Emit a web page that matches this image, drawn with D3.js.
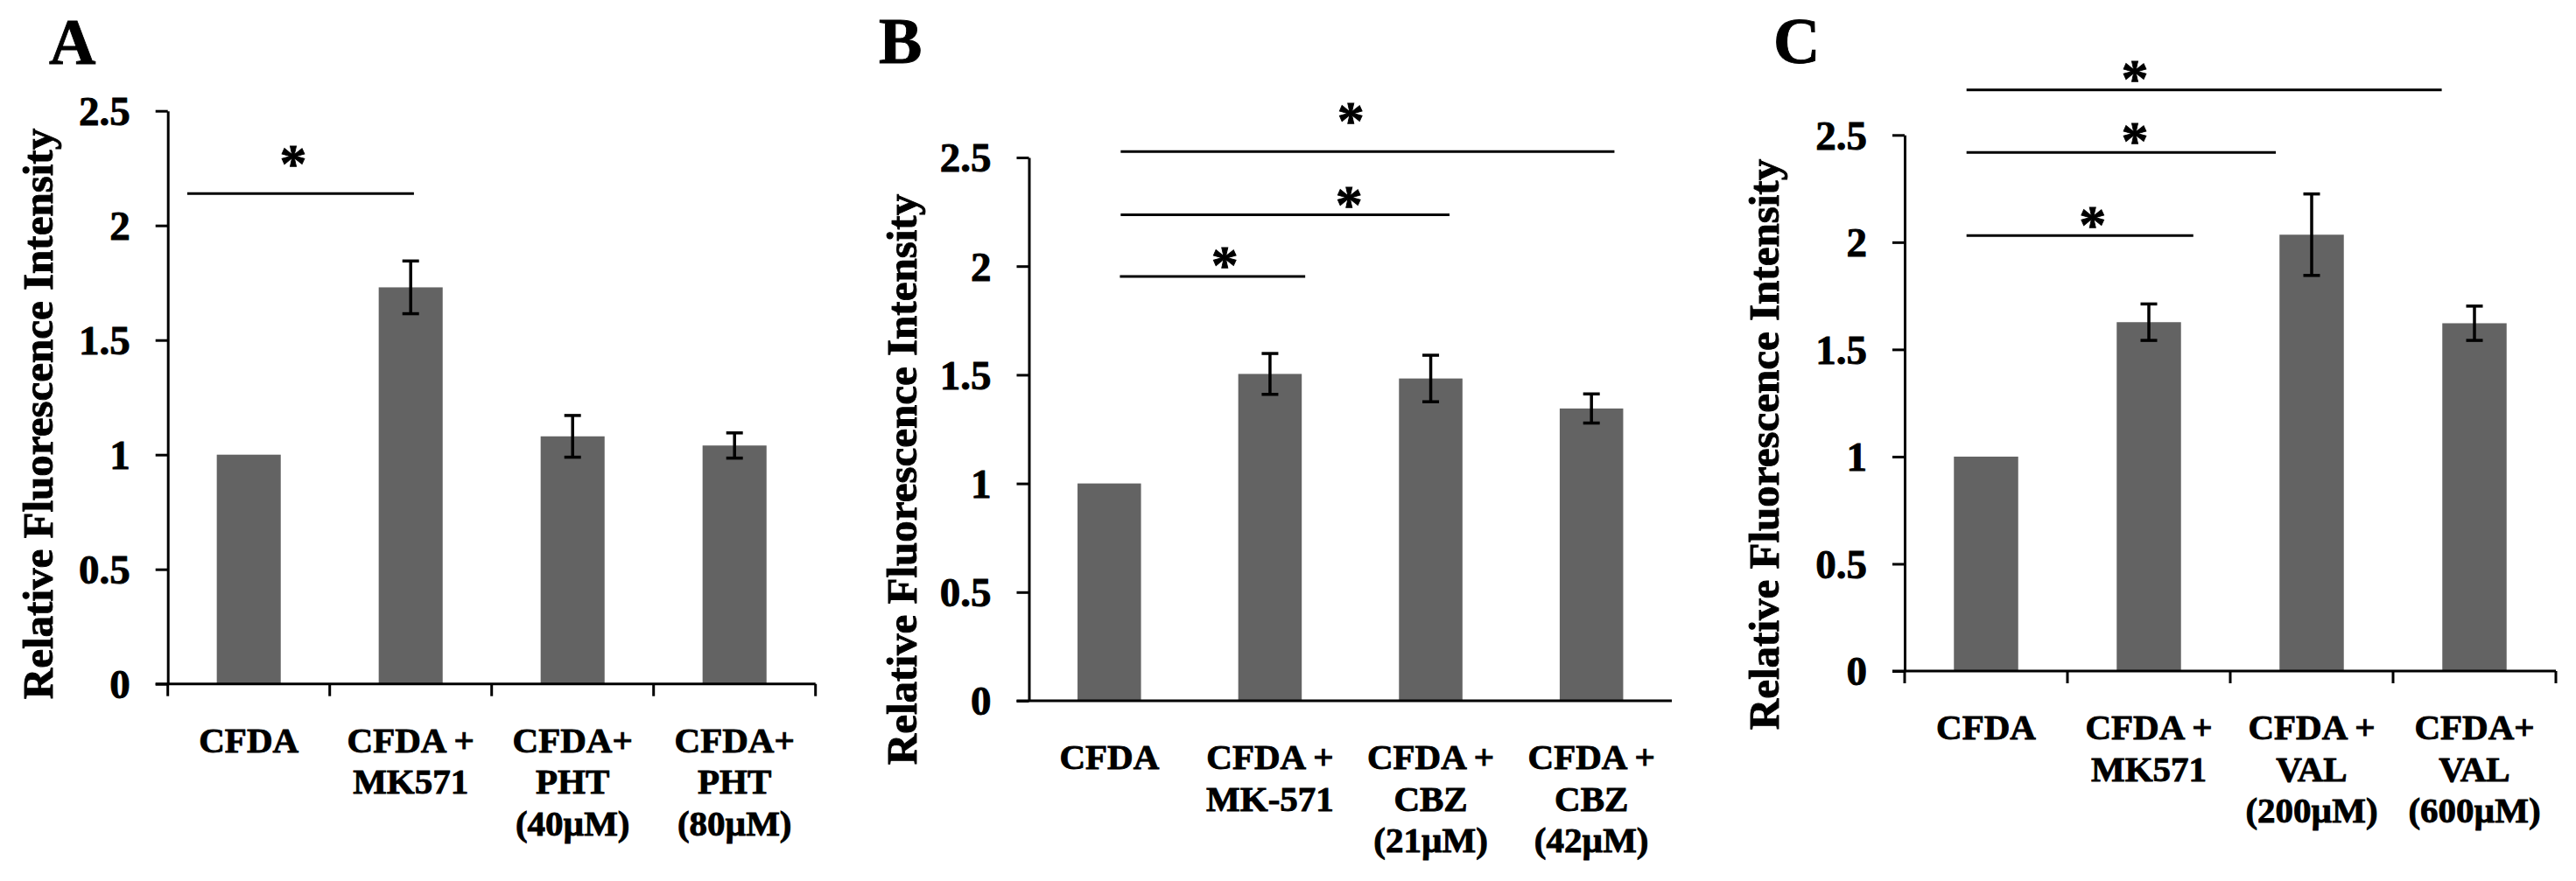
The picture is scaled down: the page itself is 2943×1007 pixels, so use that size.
<!DOCTYPE html>
<html>
<head>
<meta charset="utf-8">
<script src="https://cdn.jsdelivr.net/npm/d3@7"></script>
<style>
  html, body { margin: 0; padding: 0; background: #fff; }
  svg { display: block; }
  text { font-family: "Liberation Serif", "Times New Roman", serif; font-weight: bold; fill: #000; stroke: #000; stroke-width: 0.9px; }
</style>
</head>
<body>
<svg id="chart" width="2943" height="1007"></svg>
<script>
// ---------------- DATA ----------------
const yTickValues = [0, 0.5, 1, 1.5, 2, 2.5];
const yTickLabels = ["0", "0.5", "1", "1.5", "2", "2.5"];
const yAxisTitle = "Relative Fluorescence Intensity";
const panelLetters = ["A", "B", "C"];

const catsA = [["CFDA"], ["CFDA +", "MK571"], ["CFDA+", "PHT", "(40µM)"], ["CFDA+", "PHT", "(80µM)"]];
const valuesA = [1.0, 1.73, 1.08, 1.04];
const errorsA = [0, 0.115, 0.091, 0.055];
// significance bars: from/to in category-band units, level in value units, star position
const sigA = [
  { from: 0.12, to: 1.52, level: 2.139, starX: 0.775, starY: 2.308 }
];

const catsB = [["CFDA"], ["CFDA +", "MK-571"], ["CFDA +", "CBZ", "(21µM)"], ["CFDA +", "CBZ", "(42µM)"]];
const valuesB = [1.0, 1.504, 1.483, 1.345];
const errorsB = [0, 0.094, 0.107, 0.067];
const sigB = [
  { from: 0.566, to: 1.719, level: 1.952, starX: 1.219, starY: 2.044 },
  { from: 0.571, to: 2.617, level: 2.236, starX: 1.992, starY: 2.323 },
  { from: 0.571, to: 3.643, level: 2.527, starX: 2.003, starY: 2.708 }
];

const catsC = [["CFDA"], ["CFDA +", "MK571"], ["CFDA +", "VAL", "(200µM)"], ["CFDA+", "VAL", "(600µM)"]];
const valuesC = [1.0, 1.627, 2.035, 1.622];
const errorsC = [0, 0.085, 0.19, 0.08];
const sigC = [
  { from: 0.38, to: 1.773, level: 2.031, starX: 1.154, starY: 2.119 },
  { from: 0.38, to: 2.280, level: 2.419, starX: 1.414, starY: 2.513 },
  { from: 0.38, to: 3.299, level: 2.710, starX: 1.414, starY: 2.803 }
];

// ---------------- LAYOUT ----------------
const layouts = [
  { left: 191.7, right: 931.7, top: 126.7, bottom: 781.7, catTicks: true,
    letterX: 56, letterY: 73, titleX: 60, titleY: 473 },
  { left: 1175.5, right: 1910, top: 180, bottom: 801, catTicks: false,
    letterX: 1004, letterY: 72, titleX: 1047, titleY: 548 },
  { left: 2176, right: 2920, top: 154.3, bottom: 767, catTicks: true,
    letterX: 2026, letterY: 72, titleX: 2032, titleY: 508 }
];
const panels = [
  { cats: catsA, values: valuesA, errors: errorsA, sig: sigA },
  { cats: catsB, values: valuesB, errors: errorsB, sig: sigB },
  { cats: catsC, values: valuesC, errors: errorsC, sig: sigC }
];

const barColor = "#636363";
const tickLen = 14;
const tickFont = 47;
const catFont = 41;
const catLineH = 47.5;
const titleFont = 49;
const letterFont = 74;
const starFont = 62;

const svg = d3.select("#chart");

panels.forEach((p, i) => {
  const L = layouts[i];
  const g = svg.append("g");
  const y = d3.scaleLinear().domain([0, 2.5]).range([L.bottom, L.top]);
  const x = d3.scaleBand().domain(d3.range(p.values.length)).range([L.left, L.right]).padding(0);
  const u = d3.scaleLinear().domain([0, p.values.length]).range([L.left, L.right]);
  const bw = x.bandwidth() * 0.395;

  // bars
  g.selectAll("rect.bar").data(p.values).join("rect")
    .attr("class", "bar")
    .attr("x", (d, k) => x(k) + x.bandwidth() / 2 - bw / 2)
    .attr("width", bw)
    .attr("y", d => y(d))
    .attr("height", d => y(0) - y(d))
    .attr("fill", barColor);

  // error bars
  const capW = 19;
  p.values.forEach((v, k) => {
    const e = p.errors[k];
    if (!e) return;
    const cx = x(k) + x.bandwidth() / 2;
    const eg = g.append("g").attr("stroke", "#000").attr("stroke-width", 3.5);
    eg.append("line").attr("x1", cx).attr("x2", cx).attr("y1", y(v + e)).attr("y2", y(v - e));
    eg.append("line").attr("x1", cx - capW / 2).attr("x2", cx + capW / 2).attr("y1", y(v + e)).attr("y2", y(v + e));
    eg.append("line").attr("x1", cx - capW / 2).attr("x2", cx + capW / 2).attr("y1", y(v - e)).attr("y2", y(v - e));
  });

  // y axis
  const yAxis = d3.axisLeft(y).tickValues(yTickValues)
    .tickFormat((d, k) => yTickLabels[k])
    .tickSize(tickLen).tickSizeOuter(0).tickPadding(29);
  const ya = g.append("g").attr("transform", `translate(${L.left},0)`).call(yAxis);
  ya.select(".domain").attr("stroke", "#000").attr("stroke-width", 3);
  ya.selectAll(".tick line").attr("stroke", "#000").attr("stroke-width", 3);
  ya.selectAll(".tick text")
    .attr("font-size", tickFont)
    .attr("font-family", "Liberation Serif, Times New Roman, serif")
    .attr("font-weight", "bold")
    .attr("fill", "#000")
    .attr("dy", "0.34em");

  // x axis line
  g.append("line")
    .attr("x1", L.left - tickLen).attr("x2", L.right)
    .attr("y1", y(0)).attr("y2", y(0))
    .attr("stroke", "#000").attr("stroke-width", 3);
  if (L.catTicks) {
    g.selectAll("line.ct").data(d3.range(p.values.length + 1)).join("line")
      .attr("class", "ct")
      .attr("x1", k => u(k)).attr("x2", k => u(k))
      .attr("y1", y(0)).attr("y2", y(0) + tickLen)
      .attr("stroke", "#000").attr("stroke-width", 3);
  }

  // category labels
  p.cats.forEach((lines, k) => {
    const t = g.append("text")
      .attr("text-anchor", "middle")
      .attr("font-size", catFont)
      .attr("x", x(k) + x.bandwidth() / 2)
      .attr("y", y(0) + 78);
    lines.forEach((ln, j) => {
      t.append("tspan").attr("x", x(k) + x.bandwidth() / 2).attr("dy", j === 0 ? 0 : catLineH).text(ln);
    });
  });

  // y title
  g.append("text")
    .attr("text-anchor", "middle")
    .attr("font-size", titleFont)
    .attr("transform", `translate(${L.titleX},${L.titleY}) rotate(-90)`)
    .text(yAxisTitle);

  // panel letter
  g.append("text")
    .attr("font-size", letterFont)
    .attr("x", L.letterX).attr("y", L.letterY)
    .text(panelLetters[i]);

  // significance bars
  p.sig.forEach(s => {
    g.append("line")
      .attr("x1", u(s.from)).attr("x2", u(s.to))
      .attr("y1", y(s.level)).attr("y2", y(s.level))
      .attr("stroke", "#000").attr("stroke-width", 3);
    g.append("text")
      .attr("text-anchor", "middle")
      .attr("font-size", starFont)
      .attr("x", u(s.starX))
      .attr("y", y(s.starY) + starFont * 0.48)
      .text("*");
  });
});
</script>
</body>
</html>
